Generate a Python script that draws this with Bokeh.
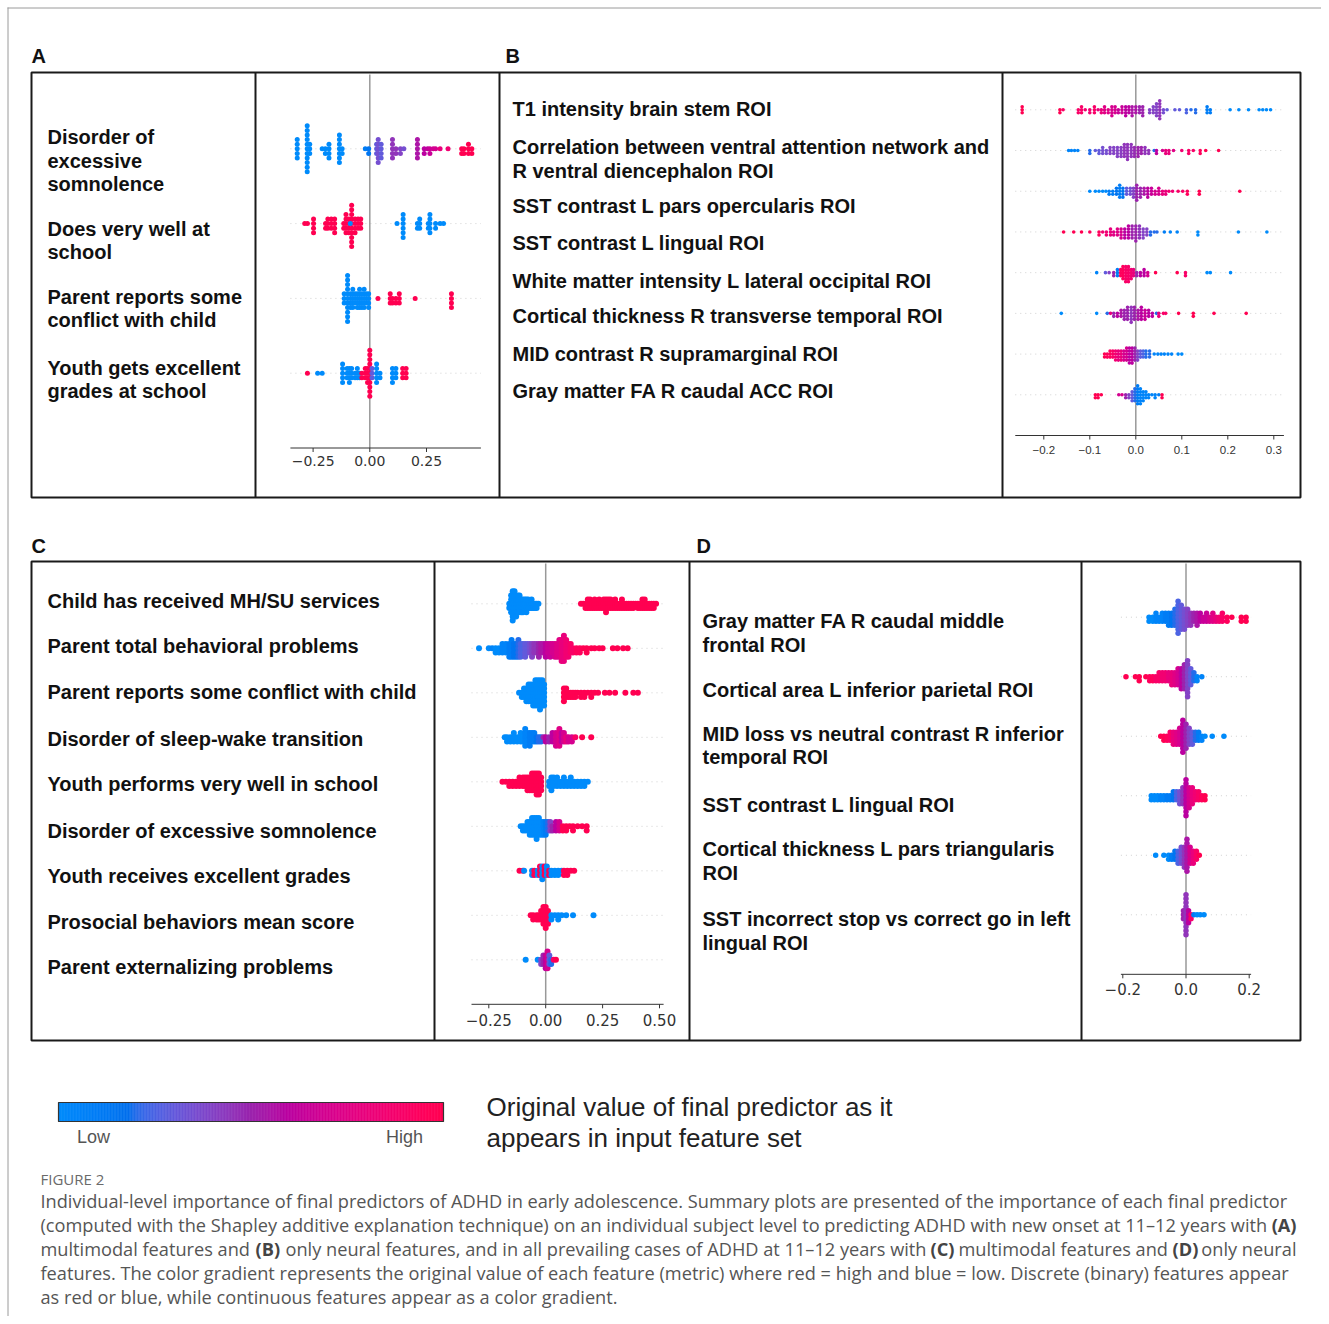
import numpy as np
from bokeh.plotting import figure
from bokeh.models import Range1d, ColumnDataSource
from bokeh.transform import linear_cmap
from bokeh.core.properties import value
from bokeh.embed import file_html
from bokeh.resources import INLINE

# ============================ DATA ============================
# each point cluster: (SHAP value, number of subjects stacked at that value, feature value 0=low..1=high)

A_features = [["Disorder of", "excessive", "somnolence"],
              ["Does very well at", "school"],
              ["Parent reports some", "conflict with child"],
              ["Youth gets excellent", "grades at school"]]
A_ticks = [-0.25, 0.0, 0.25]
A_tick_labels = ["\u22120.25", "0.00", "0.25"]
A_xlim = [-0.35, 0.49]
A_points = [
    [(-0.320, 5, 0), (-0.276, 11, 0), (-0.265, 3, 0), (-0.210, 1, 0), (-0.196, 2, 0), (-0.180, 4, 0),
     (-0.134, 7, 0), (-0.122, 2, 0), (-0.020, 1, 0.1), (-0.005, 2, 0.15), (0.030, 3, 0.3), (0.037, 6, 0.35),
     (0.050, 4, 0.3), (0.100, 5, 0.45), (0.115, 2, 0.45), (0.135, 2, 0.4), (0.150, 1, 0.35), (0.210, 5, 0.55),
     (0.240, 2, 0.6), (0.255, 1, 0.62), (0.265, 2, 0.65), (0.280, 1, 0.68), (0.290, 1, 0.7), (0.310, 1, 0.8),
     (0.345, 1, 0.85), (0.405, 2, 1), (0.415, 2, 1), (0.435, 3, 1), (0.450, 2, 1)],
    [(-0.287, 1, 1), (-0.275, 1, 1), (-0.248, 4, 1), (-0.195, 2, 1), (-0.185, 3, 1), (-0.170, 3, 1),
     (-0.155, 4, 1), (-0.115, 2, 1), (-0.105, 5, 1), (-0.093, 4, 1), (-0.080, 10, 1), (-0.065, 4, 1),
     (-0.052, 3, 1), (-0.040, 3, 1), (-0.086, 1, 0), (0.120, 1, 0), (0.147, 6, 0), (0.210, 2, 0), (0.220, 3, 0),
     (0.258, 2, 0), (0.265, 5, 0), (0.290, 2, 0), (0.310, 1, 0), (0.325, 1, 0)],
    [(-0.113, 3, 0), (-0.098, 11, 0), (-0.085, 4, 0), (-0.075, 5, 0), (-0.065, 3, 0), (-0.055, 4, 0),
     (-0.045, 5, 0), (-0.035, 4, 0), (-0.025, 5, 0), (-0.015, 3, 0), (-0.005, 4, 0), (0.036, 1, 1),
     (0.090, 3, 1), (0.100, 2, 1), (0.115, 2, 1), (0.130, 3, 1), (0.200, 1, 1), (0.360, 4, 1)],
    [(-0.275, 1, 1), (-0.230, 1, 0), (-0.210, 1, 0), (-0.120, 5, 0), (-0.100, 3, 0), (-0.090, 4, 0),
     (-0.080, 3, 0), (-0.065, 2, 0), (-0.055, 3, 0), (-0.045, 2, 0), (-0.035, 2, 1), (-0.020, 3, 1),
     (-0.010, 4, 1), (0.000, 11, 1), (0.010, 3, 0.3), (0.030, 5, 0), (0.045, 2, 0), (0.100, 4, 0),
     (0.115, 3, 0), (0.145, 3, 1), (0.160, 3, 1)],
]

B_features = [["T1 intensity brain stem ROI"],
              ["Correlation between ventral attention network and", "R ventral diencephalon ROI"],
              ["SST contrast L pars opercularis ROI"],
              ["SST contrast L lingual ROI"],
              ["White matter intensity L lateral occipital ROI"],
              ["Cortical thickness R transverse temporal ROI"],
              ["MID contrast R supramarginal ROI"],
              ["Gray matter FA R caudal ACC ROI"]]
B_ticks = [-0.2, -0.1, 0.0, 0.1, 0.2, 0.3]
B_tick_labels = ["\u22120.2", "\u22120.1", "0.0", "0.1", "0.2", "0.3"]
B_xlim = [-0.262, 0.322]
B_points = [
    [(-0.247, 3, 1), (-0.165, 2, 1), (-0.158, 1, 0.9), (-0.125, 2, 0.9), (-0.118, 3, 0.9), (-0.110, 1, 0.85),
     (-0.100, 2, 0.85), (-0.090, 3, 0.9), (-0.082, 1, 0.8), (-0.075, 2, 0.8), (-0.068, 3, 0.75), (-0.060, 2, 0.75),
     (-0.052, 4, 0.7), (-0.045, 3, 0.7), (-0.038, 2, 0.65), (-0.030, 3, 0.65), (-0.022, 4, 0.6), (-0.015, 3, 0.6),
     (-0.008, 4, 0.55), (0.000, 3, 0.55), (0.008, 3, 0.5), (0.015, 4, 0.5), (0.030, 2, 0.4), (0.038, 3, 0.4),
     (0.045, 5, 0.4), (0.052, 7, 0.45), (0.060, 2, 0.35), (0.068, 1, 0.3), (0.085, 1, 0.3), (0.095, 1, 0.3),
     (0.110, 2, 0.25), (0.120, 1, 0.2), (0.130, 2, 0.2), (0.155, 3, 0.1), (0.162, 2, 0.1), (0.205, 1, 0),
     (0.224, 1, 0), (0.245, 1, 0), (0.268, 1, 0), (0.276, 1, 0), (0.284, 1, 0), (0.293, 1, 0)],
    [(-0.146, 1, 0.05), (-0.140, 1, 0.05), (-0.133, 1, 0.05), (-0.126, 1, 0.05), (-0.100, 2, 0.2), (-0.088, 1, 0.3),
     (-0.080, 2, 0.3), (-0.072, 3, 0.35), (-0.064, 2, 0.35), (-0.056, 3, 0.4), (-0.048, 3, 0.4), (-0.040, 4, 0.4),
     (-0.032, 4, 0.42), (-0.025, 5, 0.45), (-0.018, 6, 0.45), (-0.010, 5, 0.45), (-0.003, 4, 0.48), (0.005, 4, 0.5),
     (0.012, 3, 0.5), (0.020, 3, 0.45), (0.028, 2, 0.45), (0.040, 1, 0.2), (0.045, 2, 0.6), (0.058, 1, 0.7),
     (0.065, 2, 0.8), (0.072, 2, 0.8), (0.082, 1, 0.75), (0.100, 1, 0.85), (0.115, 2, 0.9), (0.125, 1, 0.9),
     (0.140, 2, 0.95), (0.152, 1, 1), (0.180, 1, 1)],
    [(-0.100, 1, 0), (-0.088, 1, 0), (-0.080, 1, 0), (-0.072, 1, 0), (-0.065, 1, 0), (-0.058, 2, 0.1),
     (-0.050, 2, 0.1), (-0.042, 3, 0.15), (-0.035, 5, 0.1), (-0.028, 4, 0.15), (-0.020, 3, 0.3), (-0.012, 3, 0.35),
     (-0.005, 4, 0.4), (0.002, 6, 0.5), (0.010, 4, 0.5), (0.018, 3, 0.55), (0.026, 4, 0.6), (0.034, 3, 0.65),
     (0.042, 2, 0.7), (0.050, 3, 0.7), (0.058, 2, 0.8), (0.065, 2, 0.8), (0.072, 1, 0.85), (0.080, 1, 0.85),
     (0.092, 1, 0.9), (0.102, 1, 0.9), (0.112, 2, 0.95), (0.138, 2, 1), (0.226, 1, 1)],
    [(-0.157, 1, 1), (-0.135, 1, 1), (-0.118, 1, 1), (-0.100, 1, 0.95), (-0.080, 2, 0.95), (-0.072, 1, 0.85),
     (-0.064, 2, 0.85), (-0.055, 3, 0.8), (-0.048, 2, 0.75), (-0.040, 3, 0.75), (-0.032, 4, 0.7), (-0.024, 4, 0.6),
     (-0.016, 5, 0.6), (-0.008, 5, 0.5), (0.000, 6, 0.5), (0.008, 5, 0.45), (0.016, 4, 0.4), (0.024, 3, 0.4),
     (0.032, 2, 0.2), (0.040, 1, 0.2), (0.046, 1, 0.2), (0.062, 1, 0.1), (0.075, 1, 0.05), (0.090, 1, 0.05),
     (0.135, 2, 0), (0.223, 1, 0), (0.285, 1, 0)],
    [(-0.085, 1, 0.05), (-0.066, 1, 0.3), (-0.058, 1, 0.4), (-0.048, 2, 0.5), (-0.040, 3, 0.1), (-0.033, 3, 0.95),
     (-0.028, 5, 0.95), (-0.022, 6, 0.9), (-0.016, 6, 0.9), (-0.010, 4, 0.85), (-0.005, 3, 0.8), (0.002, 2, 0.5),
     (0.010, 2, 0.6), (0.018, 3, 0.6), (0.026, 2, 0.7), (0.043, 1, 1), (0.090, 1, 1), (0.108, 2, 0.9),
     (0.155, 1, 0), (0.162, 1, 0), (0.206, 1, 0)],
    [(-0.162, 1, 0), (-0.085, 1, 0), (-0.062, 1, 0.2), (-0.055, 1, 0.8), (-0.048, 2, 0.5), (-0.040, 2, 0.6),
     (-0.032, 3, 0.55), (-0.025, 4, 0.5), (-0.018, 5, 0.5), (-0.010, 6, 0.45), (-0.003, 5, 0.5), (0.005, 4, 0.55),
     (0.012, 5, 0.6), (0.020, 4, 0.65), (0.028, 3, 0.6), (0.036, 2, 0.6), (0.045, 1, 0.2), (0.050, 2, 0.8),
     (0.060, 1, 0.9), (0.065, 1, 0.9), (0.093, 1, 1), (0.125, 2, 1), (0.170, 1, 1), (0.240, 1, 1)],
    [(-0.068, 2, 1), (-0.062, 2, 0.95), (-0.056, 3, 0.95), (-0.050, 3, 0.9), (-0.044, 4, 0.85), (-0.038, 4, 0.8),
     (-0.032, 4, 0.8), (-0.026, 4, 0.7), (-0.020, 5, 0.7), (-0.014, 6, 0.6), (-0.008, 6, 0.6), (-0.002, 5, 0.5),
     (0.004, 4, 0.4), (0.010, 3, 0.3), (0.016, 3, 0.25), (0.022, 3, 0.2), (0.030, 3, 0.2), (0.040, 1, 0.05),
     (0.048, 1, 0.05), (0.055, 1, 0.05), (0.062, 1, 0.05), (0.070, 1, 0.05), (0.078, 1, 0.05), (0.092, 1, 0),
     (0.100, 1, 0)],
    [(-0.088, 2, 1), (-0.082, 2, 1), (-0.075, 1, 1), (-0.037, 1, 0.7), (-0.030, 1, 0.7), (-0.022, 2, 0.5),
     (-0.015, 2, 0.4), (-0.008, 4, 0.3), (-0.002, 5, 0.2), (0.004, 7, 0.1), (0.010, 6, 0.05), (0.016, 4, 0.05),
     (0.022, 3, 0.05), (0.028, 2, 0.05), (0.035, 1, 0.05), (0.042, 2, 0.05), (0.050, 1, 0.1), (0.057, 2, 1)],
]

C_features = [["Child has received MH/SU services"],
              ["Parent total behavioral problems"],
              ["Parent reports some conflict with child"],
              ["Disorder of sleep-wake transition"],
              ["Youth performs very well in school"],
              ["Disorder of excessive somnolence"],
              ["Youth receives excellent grades"],
              ["Prosocial behaviors mean score"],
              ["Parent externalizing problems"]]
C_ticks = [-0.25, 0.0, 0.25, 0.5]
C_tick_labels = ["\u22120.25", "0.00", "0.25", "0.50"]
C_xlim = [-0.326, 0.518]
C_points = [
    [(-0.160, 2, 0), (-0.152, 5, 0), (-0.145, 8, 0), (-0.137, 7, 0), (-0.130, 6, 0), (-0.122, 5, 0),
     (-0.115, 5, 0), (-0.107, 4, 0), (-0.100, 4, 0), (-0.092, 3, 0), (-0.085, 4, 0), (-0.077, 3, 0),
     (-0.070, 2, 0), (-0.062, 3, 0), (-0.055, 2, 0), (-0.047, 2, 0), (-0.040, 2, 0), (-0.032, 1, 0),
     (0.155, 1, 1), (0.165, 1, 1), (0.175, 2, 1), (0.185, 3, 1), (0.195, 3, 1), (0.205, 2, 1), (0.215, 3, 1),
     (0.225, 2, 1), (0.235, 3, 1), (0.245, 2, 1), (0.255, 3, 1), (0.265, 4, 1), (0.275, 3, 1), (0.285, 3, 1),
     (0.295, 2, 1), (0.305, 3, 1), (0.315, 2, 1), (0.325, 2, 1), (0.335, 3, 1), (0.345, 2, 1), (0.355, 2, 1),
     (0.365, 2, 1), (0.375, 2, 1), (0.385, 2, 1), (0.395, 1, 1), (0.405, 2, 1), (0.415, 2, 1), (0.425, 3, 1),
     (0.435, 3, 1), (0.445, 2, 1), (0.455, 2, 1), (0.465, 2, 1), (0.475, 2, 1), (0.485, 1, 1)],
    [(-0.293, 1, 0), (-0.250, 1, 0), (-0.235, 1, 0.05), (-0.220, 2, 0), (-0.205, 2, 0), (-0.190, 3, 0.05),
     (-0.175, 3, 0.05), (-0.160, 4, 0.1), (-0.150, 5, 0.1), (-0.140, 4, 0.15), (-0.130, 4, 0.15), (-0.120, 5, 0.2),
     (-0.110, 4, 0.25), (-0.100, 3, 0.25), (-0.090, 4, 0.3), (-0.080, 3, 0.3), (-0.070, 3, 0.35), (-0.060, 4, 0.4),
     (-0.050, 3, 0.45), (-0.040, 3, 0.45), (-0.030, 4, 0.5), (-0.020, 3, 0.55), (-0.010, 3, 0.55), (0.000, 4, 0.6),
     (0.010, 3, 0.65), (0.020, 4, 0.65), (0.030, 3, 0.7), (0.040, 4, 0.7), (0.050, 4, 0.75), (0.060, 5, 0.75),
     (0.070, 6, 0.8), (0.080, 7, 0.8), (0.090, 5, 0.85), (0.100, 4, 0.85), (0.110, 3, 0.9), (0.120, 2, 0.9),
     (0.135, 2, 0.95), (0.150, 2, 0.95), (0.165, 1, 1), (0.180, 2, 1), (0.200, 1, 1), (0.215, 1, 1),
     (0.235, 1, 1), (0.250, 1, 1), (0.295, 1, 1), (0.315, 1, 1), (0.340, 1, 1), (0.360, 1, 1)],
    [(-0.117, 1, 0), (-0.105, 2, 0), (-0.095, 3, 0), (-0.085, 4, 0), (-0.075, 5, 0), (-0.065, 5, 0),
     (-0.055, 6, 0), (-0.045, 7, 0), (-0.035, 7, 0), (-0.025, 8, 0), (-0.015, 7, 0), (-0.007, 6, 0),
     (0.080, 4, 1), (0.090, 3, 1), (0.100, 2, 1), (0.110, 2, 1), (0.120, 2, 1), (0.130, 2, 1), (0.140, 1, 1),
     (0.155, 2, 1), (0.170, 2, 1), (0.185, 1, 1), (0.200, 2, 1), (0.215, 1, 1), (0.230, 1, 1), (0.260, 1, 1),
     (0.280, 1, 1), (0.305, 1, 1), (0.350, 1, 1), (0.385, 1, 1), (0.405, 1, 1)],
    [(-0.180, 1, 0), (-0.170, 2, 0), (-0.155, 2, 0), (-0.140, 3, 0), (-0.125, 2, 0), (-0.110, 3, 0),
     (-0.100, 2, 0), (-0.090, 5, 0.05), (-0.080, 3, 0.05), (-0.070, 4, 0.1), (-0.060, 3, 0.1), (-0.050, 3, 0.1),
     (-0.040, 2, 0.15), (-0.030, 2, 0.2), (-0.020, 2, 0.2), (-0.010, 1, 0.5), (0.000, 2, 0.6), (0.015, 2, 0.5),
     (0.030, 3, 0.6), (0.045, 4, 0.7), (0.060, 5, 0.75), (0.070, 3, 0.6), (0.080, 3, 0.7), (0.090, 2, 0.8),
     (0.100, 2, 0.7), (0.115, 2, 0.7), (0.130, 1, 0.9), (0.160, 1, 1), (0.200, 1, 1)],
    [(-0.190, 1, 1), (-0.175, 1, 1), (-0.160, 2, 1), (-0.145, 2, 1), (-0.130, 2, 1), (-0.115, 3, 1),
     (-0.100, 3, 1), (-0.090, 3, 1), (-0.080, 4, 1), (-0.070, 4, 1), (-0.060, 5, 1), (-0.050, 5, 1),
     (-0.040, 6, 1), (-0.030, 6, 1), (-0.020, 4, 1), (0.015, 2, 0), (0.025, 4, 0), (0.035, 3, 0), (0.050, 3, 0),
     (0.065, 2, 0), (0.080, 3, 0), (0.095, 2, 0), (0.110, 3, 0), (0.125, 2, 0), (0.140, 2, 0), (0.155, 2, 0),
     (0.170, 2, 0), (0.185, 1, 0)],
    [(-0.110, 1, 0), (-0.100, 2, 0), (-0.090, 2, 0), (-0.080, 3, 0), (-0.070, 4, 0), (-0.060, 5, 0),
     (-0.050, 5, 0), (-0.040, 6, 0), (-0.030, 5, 0), (-0.020, 4, 0), (-0.010, 4, 0.05), (0.000, 4, 0.1),
     (0.010, 3, 0.2), (0.020, 3, 0.4), (0.030, 2, 0.5), (0.045, 3, 0.6), (0.060, 3, 0.7), (0.075, 2, 1),
     (0.090, 2, 1), (0.105, 1, 1), (0.120, 2, 1), (0.140, 1, 1), (0.160, 1, 1), (0.180, 2, 1)],
    [(-0.115, 1, 1), (-0.100, 1, 1), (-0.095, 1, 0), (-0.060, 2, 0), (-0.050, 2, 1), (-0.035, 2, 0),
     (-0.025, 3, 1), (-0.015, 4, 0), (-0.005, 3, 1), (0.005, 3, 0), (0.015, 2, 1), (0.025, 2, 0),
     (0.040, 2, 0), (0.055, 2, 0), (0.070, 1, 0), (0.080, 2, 1), (0.095, 2, 1), (0.110, 1, 1), (0.125, 1, 1)],
    [(-0.066, 1, 1), (-0.055, 2, 1), (-0.040, 2, 1), (-0.030, 2, 1), (-0.020, 3, 1), (-0.010, 5, 1),
     (0.000, 6, 1), (0.010, 4, 1), (0.025, 2, 0), (0.040, 1, 0), (0.055, 2, 0), (0.070, 1, 0), (0.090, 1, 0),
     (0.120, 1, 0), (0.210, 1, 0)],
    [(-0.088, 1, 0), (-0.035, 1, 0), (-0.020, 2, 0.4), (-0.010, 3, 0.5), (0.000, 4, 0.6), (0.008, 5, 0.7),
     (0.016, 3, 0.3), (0.024, 2, 0.2), (0.035, 1, 0.9), (0.045, 1, 1)],
]

D_features = [["Gray matter FA R caudal middle", "frontal ROI"],
              ["Cortical area L inferior parietal ROI"],
              ["MID loss vs neutral contrast R inferior", "temporal ROI"],
              ["SST contrast L lingual ROI"],
              ["Cortical thickness L pars triangularis", "ROI"],
              ["SST incorrect stop vs correct go in left", "lingual ROI"]]
D_ticks = [-0.2, 0.0, 0.2]
D_tick_labels = ["\u22120.2", "0.0", "0.2"]
D_xlim = [-0.206, 0.206]
D_points = [
    [(-0.117, 2, 0), (-0.105, 2, 0), (-0.095, 3, 0.05), (-0.085, 2, 0.05), (-0.075, 3, 0.05), (-0.065, 3, 0.1),
     (-0.055, 4, 0.1), (-0.045, 4, 0.15), (-0.035, 5, 0.2), (-0.025, 9, 0.25), (-0.015, 7, 0.3), (-0.005, 6, 0.35),
     (0.005, 5, 0.4), (0.015, 4, 0.45), (0.025, 3, 0.5), (0.035, 4, 0.55), (0.045, 3, 0.6), (0.055, 2, 0.65),
     (0.065, 3, 0.65), (0.075, 2, 0.7), (0.085, 3, 0.75), (0.095, 2, 0.8), (0.105, 2, 0.85), (0.115, 3, 0.9),
     (0.130, 2, 0.95), (0.145, 1, 1), (0.175, 2, 1), (0.190, 2, 1)],
    [(-0.190, 1, 1), (-0.160, 1, 1), (-0.148, 2, 1), (-0.127, 1, 1), (-0.115, 2, 0.95), (-0.105, 2, 0.95),
     (-0.095, 2, 0.9), (-0.085, 3, 0.9), (-0.075, 3, 0.85), (-0.065, 3, 0.85), (-0.055, 3, 0.8), (-0.045, 4, 0.8),
     (-0.035, 4, 0.75), (-0.025, 5, 0.7), (-0.015, 6, 0.6), (-0.005, 7, 0.5), (0.005, 10, 0.4), (0.015, 5, 0.3),
     (0.025, 3, 0.2), (0.035, 2, 0.05), (0.050, 1, 0.05)],
    [(-0.080, 1, 1), (-0.070, 2, 1), (-0.060, 2, 0.95), (-0.050, 3, 0.9), (-0.040, 4, 0.8), (-0.030, 4, 0.75),
     (-0.020, 5, 0.7), (-0.010, 9, 0.6), (0.000, 7, 0.5), (0.010, 5, 0.4), (0.020, 4, 0.3), (0.030, 3, 0.2),
     (0.040, 3, 0.1), (0.050, 2, 0.05), (0.060, 1, 0), (0.083, 1, 0), (0.120, 1, 0)],
    [(-0.110, 2, 0), (-0.100, 2, 0), (-0.090, 2, 0), (-0.080, 2, 0.05), (-0.070, 2, 0.05), (-0.060, 2, 0.1),
     (-0.050, 2, 0.1), (-0.040, 3, 0.15), (-0.030, 3, 0.25), (-0.020, 4, 0.35), (-0.010, 5, 0.45), (0.000, 10, 0.6),
     (0.010, 6, 0.7), (0.020, 5, 0.8), (0.030, 3, 0.85), (0.040, 3, 0.9), (0.050, 2, 0.95), (0.060, 2, 1)],
    [(-0.096, 1, 0), (-0.070, 1, 0), (-0.055, 2, 0), (-0.045, 2, 0.1), (-0.035, 3, 0.15), (-0.025, 4, 0.25),
     (-0.015, 5, 0.35), (-0.005, 6, 0.45), (0.003, 9, 0.55), (0.013, 5, 0.7), (0.023, 4, 0.8), (0.033, 3, 0.9),
     (0.042, 1, 1)],
    [(-0.008, 3, 0.5), (0.000, 11, 0.45), (0.008, 4, 0.6), (0.016, 2, 0.9), (0.025, 1, 0.1), (0.035, 1, 0),
     (0.045, 1, 0), (0.057, 1, 0)],
]

LEGEND_TEXT = ["Original value of final predictor as it", "appears in input feature set"]
LEGEND_ENDS = ["Low", "High"]

CAPTION_HEAD = "FIGURE 2"
CAPTION_SEGMENTS = [
    (0, "Individual-level importance of final predictors of ADHD in early adolescence. Summary plots are presented of the importance of each final predictor", "normal", "left", 40),
    (1, "(computed with the Shapley additive explanation technique) on an individual subject level to predicting ADHD with new onset at 11\u201312 years with", "normal", "left", 40),
    (1, "(A)", "bold", "right", 1296),
    (2, "multimodal features and", "normal", "left", 40),
    (2, "(B)", "bold", "left", 255),
    (2, "only neural features, and in all prevailing cases of ADHD at 11\u201312 years with", "normal", "left", 285),
    (2, "(C)", "bold", "left", 930),
    (2, "multimodal features and", "normal", "left", 958),
    (2, "(D)", "bold", "left", 1172),
    (2, "only neural", "normal", "right", 1296),
    (3, "features. The color gradient represents the original value of each feature (metric) where red = high and blue = low. Discrete (binary) features appear", "normal", "left", 40),
    (4, "as red or blue, while continuous features appear as a color gradient.", "normal", "left", 40),
]


# ============================ COLOURS (shap red_blue, LCH interpolation) ============================
def lch_to_hex(L, C, h):
    a, b = C * np.cos(h), C * np.sin(h)
    fy = (L + 16.0) / 116.0
    fx, fz = fy + a / 500.0, fy - b / 200.0

    def finv(f):
        return f ** 3 if f > 6 / 29 else 3 * (6 / 29) ** 2 * (f - 4 / 29)

    X, Y, Z = 0.95047 * finv(fx), finv(fy), 1.08883 * finv(fz)
    rgb = [3.2406 * X - 1.5372 * Y - 0.4986 * Z,
           -0.9689 * X + 1.8758 * Y + 0.0415 * Z,
           0.0557 * X - 0.2040 * Y + 1.0570 * Z]
    out = []
    for c in rgb:
        c = min(max(c, 0.0), 1.0)
        c = 12.92 * c if c <= 0.0031308 else 1.055 * c ** (1 / 2.4) - 0.055
        out.append(int(round(min(max(c, 0), 1) * 255)))
    return "#%02x%02x%02x" % tuple(out)


def red_blue_palette(n=256):
    blue_lch = (54.0, 70.0, 4.6588)
    red_lch = (54.0, 90.0, 0.35470565 + 2 * np.pi)
    l_mid = 40.0
    pal = []
    for t in np.linspace(0, 1, n):
        L = blue_lch[0] + (l_mid - blue_lch[0]) * (t / 0.5) if t < 0.5 else l_mid + (red_lch[0] - l_mid) * ((t - 0.5) / 0.5)
        C = blue_lch[1] + (red_lch[1] - blue_lch[1]) * t
        h = blue_lch[2] + (red_lch[2] - blue_lch[2]) * t
        pal.append(lch_to_hex(L, C, h))
    return pal


PALETTE = red_blue_palette(256)

# ============================ CANVAS ============================
W, H = 1321, 1316
p = figure(width=W, height=H, x_range=Range1d(0, W), y_range=Range1d(H, 0),
           output_backend="svg", toolbar_location=None, x_axis_type=None, y_axis_type=None,
           min_border=0, background_fill_color="white", border_fill_color="white")
p.outline_line_color = None

LS = "Liberation Sans"


def txt(xs, ys, texts, font=LS, size="20px", style="normal", color="#111111", align="left", baseline="middle", target=None):
    (target or p).text(x=xs, y=ys, text=texts, text_font=value(font), text_font_size=size,
                       text_font_style=style, text_color=color, text_align=align, text_baseline=baseline)


# page frame lines
p.segment(x0=[7.5, 7], y0=[7, 7.5], x1=[7.5, W], y1=[H, 7.5], line_color="#9a9a9a", line_width=1)

# ============================ BEESWARM PANELS ============================
def beeswarm(points, ticks, tick_labels, xlim, xsrc, xtgt, row0, rowN, box_top,
             dot, step_px, tick_font, tick_size, lab_off):
    n = len(points)
    spacing = (rowN - row0) / (n - 1)
    sub = p.subplot(x_source=Range1d(*xsrc), y_source=Range1d(0, n - 1),
                    x_target=Range1d(*xtgt), y_target=Range1d(row0, rowN))
    rows = list(range(n))
    # faint dotted guides
    sub.segment(x0=[xlim[0]] * n, x1=[xlim[1]] * n, y0=rows, y1=rows,
                line_color="#d0d0d0", line_width=1, line_dash="1 4")
    # zero line
    top = max(-1.0, (box_top + 2 - row0) / spacing)
    sub.segment(x0=[0], x1=[0], y0=[top], y1=[n], line_color="#999999", line_width=1.5)
    # swarm layout (stack identical values alternately above / below the row)
    xs, ys, vs = [], [], []
    su = step_px / spacing
    for r, row in enumerate(points):
        used = {}
        for (x, c, v) in row:
            key = round(x, 6)
            for _ in range(c):
                k = used.get(key, 0)
                off = ((k + 1) // 2) * (1 if k % 2 == 1 else -1)
                used[key] = k + 1
                xs.append(x)
                ys.append(r + off * su)
                vs.append(v)
    src = ColumnDataSource(dict(x=xs, y=ys, v=vs))
    sub.scatter(x="x", y="y", source=src, size=dot, line_color=None,
                fill_color=linear_cmap("v", PALETTE, 0, 1))
    # bottom axis
    sub.segment(x0=[xlim[0]], x1=[xlim[1]], y0=[n], y1=[n], line_color="#333333", line_width=1)
    k = len(ticks)
    sub.segment(x0=ticks, x1=ticks, y0=[n] * k, y1=[n + 4.0 / spacing] * k, line_color="#333333", line_width=1)
    txt(ticks, [n + lab_off / spacing] * k, tick_labels, font=tick_font, size=tick_size,
        color="#333333", align="center", target=sub)


beeswarm(A_points, A_ticks, A_tick_labels, A_xlim, (-0.25, 0.25), (312.6, 426.0), 148.3, 372.7, 72,
         5.0, 4.6, "DejaVu Sans", "14px", 12.5)
beeswarm(B_points, B_ticks, B_tick_labels, B_xlim, (-0.2, 0.3), (1043.3, 1273.3), 109.3, 394.3, 72,
         3.6, 3.0, LS, "11.5px", 14.5)
beeswarm(C_points, C_ticks, C_tick_labels, C_xlim, (-0.25, 0.5), (488.3, 659.0), 603.3, 959.3, 561,
         6.0, 4.2, "DejaVu Sans", "15px", 16.0)
beeswarm(D_points, D_ticks, D_tick_labels, D_xlim, (-0.2, 0.2), (1122.3, 1248.7), 616.7, 914.3, 561,
         5.5, 4.0, "DejaVu Sans", "15px", 15.0)

# ============================ BOXES ============================
p.quad(left=[31, 31], right=[1300, 1300], top=[72, 561], bottom=[497, 1040],
       fill_color=None, line_color="#1a1a1a", line_width=2)
p.segment(x0=[255, 499, 1002, 434, 689, 1081], x1=[255, 499, 1002, 434, 689, 1081],
          y0=[72, 72, 72, 561, 561, 561], y1=[497, 497, 497, 1040, 1040, 1040],
          line_color="#1a1a1a", line_width=2)

# panel letters
txt([31, 505, 31, 696], [55, 55, 545, 545], ["A", "B", "C", "D"], size="20px", style="bold")

# feature labels
def labels(features, x, first_ys, gap):
    xs, ys, tt = [], [], []
    for lines, y0 in zip(features, first_ys):
        for i, line in enumerate(lines):
            xs.append(x)
            ys.append(y0 + i * gap)
            tt.append(line)
    txt(xs, ys, tt, size="20px", style="bold", color="#111111")


labels(A_features, 47, [136.5, 228, 296, 367], 23.5)
labels(B_features, 512, [108.5, 146.5, 205, 242.5, 280, 315, 353, 390], 24)
labels(C_features, 47, [600, 645, 691.5, 738, 783, 830, 875, 921.5, 966], 0)
labels(D_features, 702, [620.5, 689, 733, 804, 848.5, 918.5], 23.5)

# ============================ COLOUR LEGEND ============================
cb = p.subplot(x_source=Range1d(0, 1), y_source=Range1d(0, 1),
               x_target=Range1d(58, 443), y_target=Range1d(1121, 1102))
edges = np.linspace(0, 1, len(PALETTE) + 1)
cb.quad(left=edges[:-1], right=edges[1:], bottom=[0] * len(PALETTE), top=[1] * len(PALETTE),
        fill_color=PALETTE, line_color=PALETTE, line_width=0.6)
cb.quad(left=[0], right=[1], bottom=[0], top=[1], fill_color=None, line_color="#333333", line_width=1.2)
txt([93, 404], [1136, 1136], LEGEND_ENDS, size="18px", color="#555555", align="center")
txt([486, 486], [1106, 1137], LEGEND_TEXT, size="26px", color="#222222")

# ============================ CAPTION ============================
txt([40], [1178], [CAPTION_HEAD], font="Open Sans", size="15px", color="#6a6a6a")
line_y = [1200, 1224, 1248, 1272, 1296]
for (li, s, style, align, x) in CAPTION_SEGMENTS:
    txt([x], [line_y[li]], [s], font="Open Sans", size="18.2px", style=style,
        color="#555555" if style == "normal" else "#444444", align=align)

open("out.html", "w").write(file_html(p, INLINE))
